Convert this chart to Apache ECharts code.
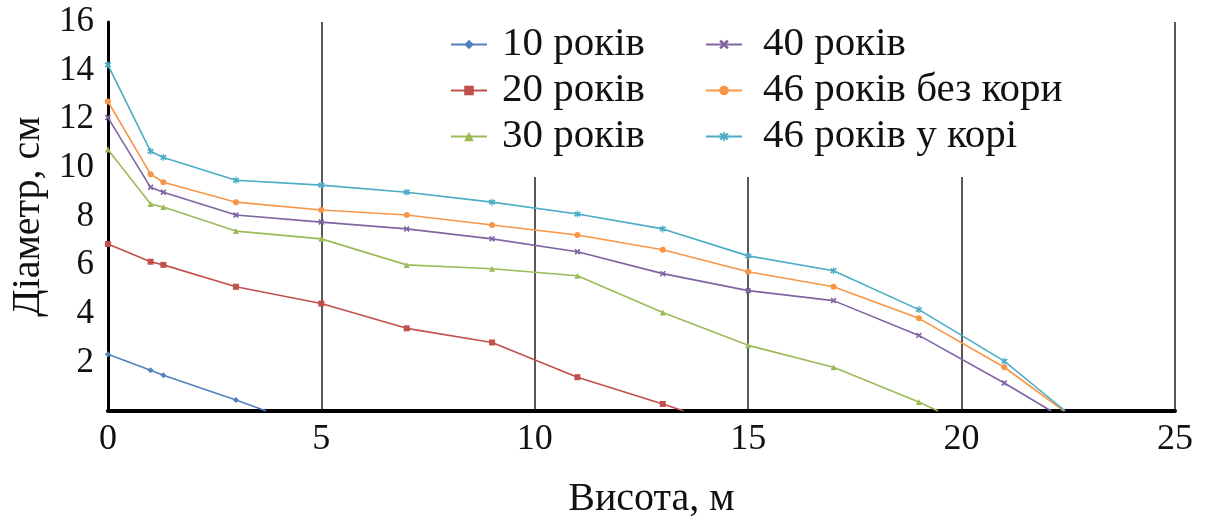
<!DOCTYPE html>
<html>
<head>
<meta charset="utf-8">
<script src="https://cdn.jsdelivr.net/npm/echarts@6/dist/echarts.min.js"></script>
<style>html,body{margin:0;padding:0;background:#fff}#c{width:1215px;height:524px}</style>
</head>
<body>
<div id="c"></div>
<script>
// Heights (m) of the measurement points
var heights = [0, 1, 1.3, 3, 5, 7, 9, 11, 13, 15, 17, 19, 21];
// Series names
var names = ['10 років', '20 років', '30 років', '40 років', '46 років без кори', '46 років у корі'];
// Diameters (cm) at the heights above
var d10 = [2.33, 1.68, 1.47, 0.45];
var d20 = [6.87, 6.14, 6.01, 5.11, 4.42, 3.40, 2.82, 1.39, 0.29];
var d30 = [10.76, 8.51, 8.39, 7.40, 7.08, 6.01, 5.85, 5.56, 4.05, 2.70, 1.80, 0.37];
var d40 = [12.07, 9.20, 9.00, 8.06, 7.77, 7.49, 7.08, 6.55, 5.65, 4.95, 4.54, 3.11, 1.15];
var d46nb = [12.73, 9.74, 9.41, 8.59, 8.27, 8.06, 7.65, 7.24, 6.63, 5.73, 5.11, 3.81, 1.80];
var d46b = [14.24, 10.68, 10.43, 9.49, 9.29, 9.00, 8.59, 8.10, 7.49, 6.38, 5.77, 4.17, 2.05];
// Tree top heights (m), where diameter reaches 0
var tops = [3.71, 13.49, 19.45, 22.10, 22.40, 22.43];
// Axis ticks
var xTicks = [0, 5, 10, 15, 20, 25];
var yTicks = [2, 4, 6, 8, 10, 12, 14, 16];

var colors = ['#4F81BD', '#C0504D', '#9BBB59', '#8064A2', '#F79646', '#4BACC6'];
var xPath = 'path://M2,0L5,3L8,0L10,2L7,5L10,8L8,10L5,7L2,10L0,8L3,5L0,2Z';
var starPath = 'path://M2,0L5,3L8,0L10,2L7,5L10,8L8,10L5,7L2,10L0,8L3,5L0,2Z M4.2,-1.5L5.8,-1.5L5.8,11.5L4.2,11.5Z';
var symbols = ['diamond', 'rect', 'triangle', xPath, 'circle', starPath];
var sizes = [6, 6, 6, 6, 6, 7];
var allD = [d10, d20, d30, d40, d46nb, d46b];

function build(arr, top) {
  var out = [];
  for (var i = 0; i < arr.length; i++) out.push([heights[i], arr[i]]);
  out.push({ value: [top, 0], symbol: 'none' });
  return out;
}

var series = allD.map(function (arr, i) {
  return {
    name: names[i],
    type: 'line',
    data: build(arr, tops[i]),
    symbol: symbols[i],
    symbolSize: sizes[i],
    showAllSymbol: true,
    lineStyle: { color: colors[i], width: 1.6 },
    itemStyle: { color: colors[i] },
    z: 3
  };
});

var font = 'Liberation Serif, Times New Roman, serif';
var legendBase = {
  orient: 'vertical',
  top: 20,
  itemWidth: 36,
  itemHeight: 12,
  itemGap: 5,
  backgroundColor: '#fff',
  padding: [4, 8, 20, 8],
  textStyle: { fontFamily: font, fontSize: 41, color: '#111', lineHeight: 41 },
  z: 10
};

var chart = echarts.init(document.getElementById('c'));
chart.setOption({
  backgroundColor: '#fff',
  color: colors,
  animation: false,
  grid: { left: 104, right: 40, top: 22, bottom: 111, containLabel: false },
  legend: [
    Object.assign({}, legendBase, { left: 442, data: names.slice(0, 3),
      textStyle: Object.assign({}, legendBase.textStyle, { padding: [0, 0, 0, 10] }) }),
    Object.assign({}, legendBase, { left: 697, data: names.slice(3),
      textStyle: Object.assign({}, legendBase.textStyle, { padding: [0, 0, 0, 16] }) })
  ],
  xAxis: {
    type: 'value',
    min: xTicks[0],
    max: xTicks[xTicks.length - 1],
    interval: 5,
    name: 'Висота, м',
    nameLocation: 'middle',
    nameGap: 68,
    nameTextStyle: { fontFamily: font, fontSize: 40, color: '#111', padding: [0, 0, 0, 20] },
    axisLine: { show: true, onZero: false, lineStyle: { color: '#000', width: 4 } },
    axisTick: { show: false },
    axisLabel: { fontFamily: font, fontSize: 36, color: '#111', margin: 11 },
    splitLine: { show: true, lineStyle: { color: '#222', width: 1.5 } }
  },
  yAxis: {
    type: 'value',
    min: 0,
    max: yTicks[yTicks.length - 1],
    interval: 2,
    name: 'Діаметр, см',
    nameLocation: 'middle',
    nameGap: 58,
    nameTextStyle: { fontFamily: font, fontSize: 40, color: '#111' },
    axisLine: { show: true, lineStyle: { color: '#000', width: 3 } },
    axisTick: { show: false },
    axisLabel: {
      fontFamily: font, fontSize: 35, color: '#111', margin: 14,
      formatter: function (v) { return yTicks.indexOf(v) >= 0 ? String(v) : ''; }
    },
    splitLine: { show: false }
  },
  series: series
});
</script>
</body>
</html>
